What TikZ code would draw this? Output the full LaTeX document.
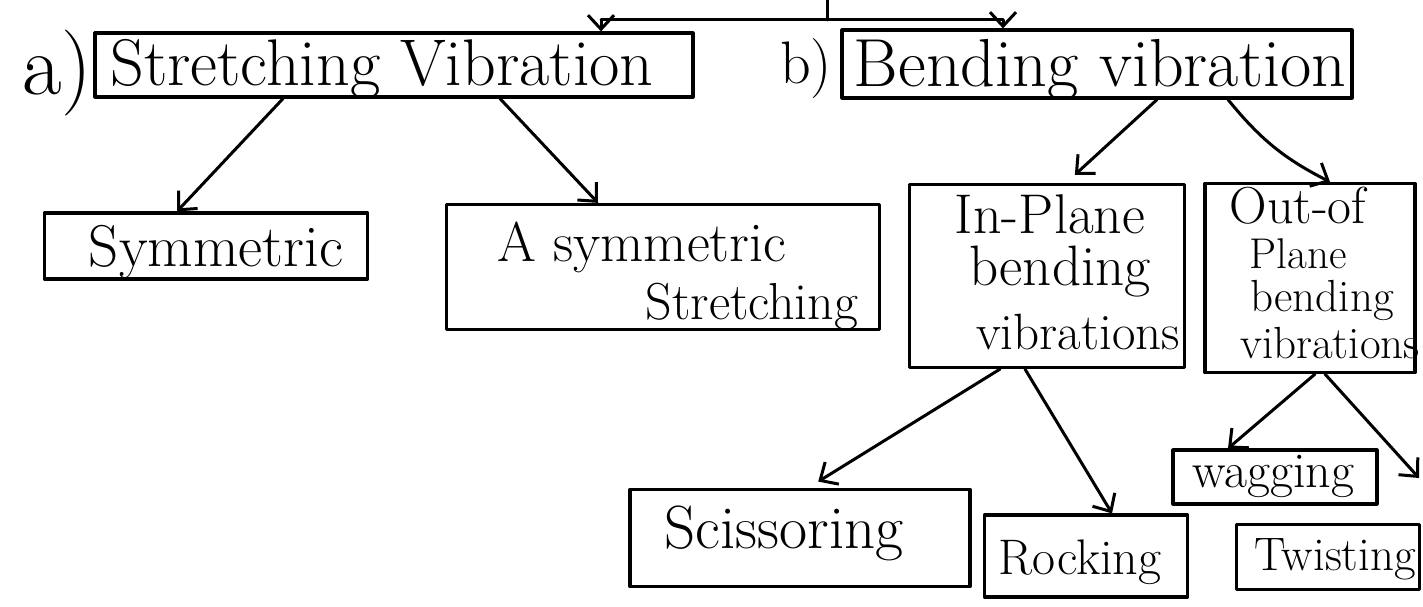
\documentclass[tikz,border=0pt]{standalone}
\usepackage{fontspec}
\usetikzlibrary{arrows.meta,calc}
\newcommand\fs[1]{\fontsize{#1}{#1}\selectfont}
\tikzset{
  box/.style={draw, rectangle, line width=3.2pt, inner sep=0pt},
  lbl/.style={anchor=base, inner sep=0pt},
  ln/.style={line width=3pt},
  arr/.style={line width=3pt, -{Straight Barb[length=14pt,width=26pt,line width=3pt]}},
}
\begin{document}
\begin{tikzpicture}[x=1pt, y=-1pt, line join=round, line cap=round]
\useasboundingbox (0,0) rectangle (1423,607);

% boxes
\node[box, minimum width=598pt, minimum height=64pt] (sv)  at (394,65)  {};
\node[box, minimum width=510pt, minimum height=68pt] (bv)  at (1097,64) {};
\node[box, minimum width=323pt, minimum height=66pt] (sym) at (206,246) {};
\node[box, minimum width=433pt, minimum height=125pt] (asy) at (663,267) {};
\node[box, minimum width=275pt, minimum height=183pt] (inp) at (1047,276) {};
\node[box, minimum width=210pt, minimum height=189pt] (oop) at (1310,278) {};
\node[box, minimum width=340pt, minimum height=97pt] (sci) at (800,538) {};
\node[box, minimum width=203pt, minimum height=82pt] (roc) at (1086,556) {};
\node[box, minimum width=204pt, minimum height=54pt] (wag) at (1275,477) {};
\node[box, minimum width=183pt, minimum height=65pt] (twi) at (1328,557) {};

% labels
\node[lbl, font=\fs{86}] (la) at (57,95) {a)};
\node[lbl, font=\fs{60}] (lb) at (806,84) {b)};
\node[lbl, font=\fs{66}] (tsv) at (382,86) {Stretching Vibration};
\node[lbl, font=\fs{68}] (tbv) at (1100,87) {Bending vibration};
\node[lbl, font=\fs{59}] (tsym) at (216,266) {Symmetric};
\node[lbl, font=\fs{56}] (tasy1) at (642,261) {A symmetric};
\node[lbl, font=\fs{52}] (tasy2) at (752,319) {Stretching};
\node[lbl, font=\fs{56}] (tinp1) at (1050,233) {In-Plane};
\node[lbl, font=\fs{57}] (tinp2) at (1060,285) {bending};
\node[lbl, font=\fs{51}] (tinp3) at (1078,349) {vibrations};
\node[lbl, font=\fs{52}] (toop1) at (1298,223) {Out-of};
\node[lbl, font=\fs{43}] (toop2) at (1298,268) {Plane};
\node[lbl, font=\fs{45}] (toop3) at (1322,311) {bending};
\node[lbl, font=\fs{45}] (toop4) at (1330,358) {vibrations};
\node[lbl, font=\fs{61}] (tsci) at (784,548) {Scissoring};
\node[lbl, font=\fs{50}] (troc) at (1080,574) {Rocking};
\node[lbl, font=\fs{50}] (twag) at (1273,487) {wagging};
\node[lbl, font=\fs{47}] (ttwi) at (1335,570) {Twisting};

% branch from the heading above
\coordinate (hub) at (827,20);
\coordinate (hubtop) at (827,0);
\coordinate (bl) at (601,20);
\coordinate (br) at (1003,20);
\draw[ln] (hubtop) -- (hub);
\draw[ln] (bl) -- (br);
\draw[arr] (bl) -- (bl |- sv.north);
\draw[arr] (br) -- (br |- bv.north);

% stretching branch
\draw[arr] ($(sv.south west)!(283,0)!(sv.south east)$) -- ($(sym.north west)!(177,0)!(sym.north east)$);
\draw[arr] ($(sv.south west)!(500,0)!(sv.south east)$) -- ($(asy.north west)!(598,0)!(asy.north east)$);

% bending branch
\draw[arr, shorten >=12pt] ($(bv.south west)!(1157,0)!(bv.south east)$) -- ($(inp.north west)!(1066,0)!(inp.north east)$);
\draw[arr] ($(bv.south west)!(1228,0)!(bv.south east)$) to[bend right=12] ($(oop.north west)!(1330,0)!(oop.north east)$);

% in-plane modes
\draw[arr, shorten >=12pt] ($(inp.south west)!(1000,0)!(inp.south east)$) -- ($(sci.north west)!(808,0)!(sci.north east)$);
\draw[arr] ($(inp.south west)!(1025,0)!(inp.south east)$) -- ($(roc.north west)!(1112,0)!(roc.north east)$);

% out-of-plane modes
\coordinate (twiarrow) at (1419,478);
\draw[arr] ($(oop.south west)!(1315,0)!(oop.south east)$) -- ($(wag.north west)!(1228,0)!(wag.north east)$);
\draw[arr] ($(oop.south west)!(1325,0)!(oop.south east)$) -- (twiarrow);
\end{tikzpicture}
\end{document}
